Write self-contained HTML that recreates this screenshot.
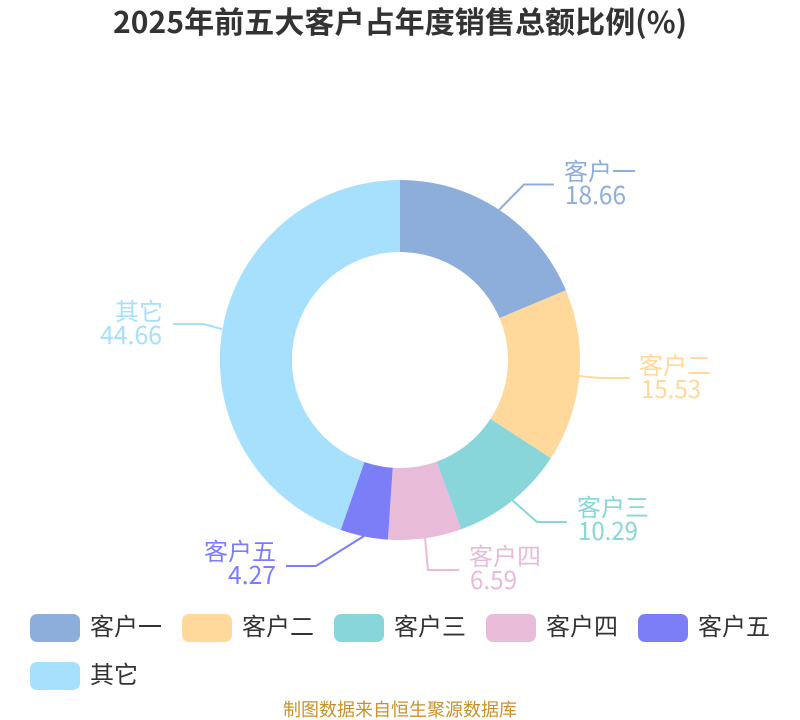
<!DOCTYPE html>
<html><head><meta charset="utf-8"><style>
html,body{margin:0;padding:0;background:#fff}
svg{display:block}
text{font-family:"Noto Sans CJK SC",sans-serif}
.n{font-size:24px}
.d{font-size:25.5px}
.l{font-size:24px;fill:#333}
</style></head><body>
<svg width="800" height="720" viewBox="0 0 800 720" xmlns="http://www.w3.org/2000/svg">
<rect width="800" height="720" fill="#fff"/>
<text x="400" y="33" text-anchor="middle" style="font-size:30px;font-weight:700" fill="#333" textLength="574" lengthAdjust="spacing">2025年前五大客户占年度销售总额比例(%)</text>
<path d="M400 180A180 180 0 0 1 565.9 290.2L499.5 318.1A108 108 0 0 0 400 252Z" fill="#8DADDB"/>
<path d="M565.9 290.2A180 180 0 0 1 550.8 458.2L490.5 418.9A108 108 0 0 0 499.5 318.1Z" fill="#FFD99C"/>
<path d="M550.8 458.2A180 180 0 0 1 461.2 529.3L436.7 461.6A108 108 0 0 0 490.5 418.9Z" fill="#88D6D9"/>
<path d="M461.2 529.3A180 180 0 0 1 387.9 539.6L392.7 467.8A108 108 0 0 0 436.7 461.6Z" fill="#E8BBD9"/>
<path d="M387.9 539.6A180 180 0 0 1 340.7 530L364.4 462A108 108 0 0 0 392.7 467.8Z" fill="#7B7EF7"/>
<path d="M340.7 530A180 180 0 0 1 400 180L400 252A108 108 0 0 0 364.4 462Z" fill="#A6E0FC"/>
<g fill="none" stroke-width="2">
<path d="M499 210L524 184.5H554" stroke="#8DADDB"/>
<path d="M579 376L600 378H630" stroke="#FFD99C"/>
<path d="M512 500L537 522H567" stroke="#88D6D9"/>
<path d="M425 538L428 570H459" stroke="#E8BBD9"/>
<path d="M364 536L316 566H286" stroke="#7B7EF7"/>
<path d="M222 329L203 324H173" stroke="#A6E0FC"/>
</g>
<g>
<text class="n" x="564" y="180" fill="#8DADDB">客户一</text>
<text class="d" x="565" y="204" fill="#8DADDB" textLength="61" lengthAdjust="spacingAndGlyphs">18.66</text>
<text class="n" x="639" y="374" fill="#FFD99C">客户二</text>
<text class="d" x="641" y="398" fill="#FFD99C" textLength="60" lengthAdjust="spacingAndGlyphs">15.53</text>
<text class="n" x="577" y="516" fill="#88D6D9">客户三</text>
<text class="d" x="578" y="540" fill="#88D6D9" textLength="60" lengthAdjust="spacingAndGlyphs">10.29</text>
<text class="n" x="469" y="565" fill="#E8BBD9">客户四</text>
<text class="d" x="470" y="589" fill="#E8BBD9" textLength="47" lengthAdjust="spacingAndGlyphs">6.59</text>
<text class="n" x="276" y="560" text-anchor="end" fill="#7B7EF7">客户五</text>
<text class="d" x="228" y="584" fill="#7B7EF7" textLength="48" lengthAdjust="spacingAndGlyphs">4.27</text>
<text class="n" x="163" y="320" text-anchor="end" fill="#A6E0FC">其它</text>
<text class="d" x="100" y="344" fill="#A6E0FC" textLength="62" lengthAdjust="spacingAndGlyphs">44.66</text>
</g>
<rect x="30" y="614" width="50" height="28" rx="7" fill="#8DADDB"/>
<rect x="182" y="614" width="50" height="28" rx="7" fill="#FFD99C"/>
<rect x="334" y="614" width="50" height="28" rx="7" fill="#88D6D9"/>
<rect x="486" y="614" width="50" height="28" rx="7" fill="#E8BBD9"/>
<rect x="638" y="614" width="50" height="28" rx="7" fill="#7B7EF7"/>
<rect x="30" y="662" width="50" height="28" rx="7" fill="#A6E0FC"/>
<text class="l" x="90" y="635">客户一</text>
<text class="l" x="242" y="635">客户二</text>
<text class="l" x="394" y="635">客户三</text>
<text class="l" x="546" y="635">客户四</text>
<text class="l" x="698" y="635">客户五</text>
<text class="l" x="90" y="683">其它</text>
<text x="400" y="716" text-anchor="middle" style="font-size:18px" fill="#C8922A">制图数据来自恒生聚源数据库</text>
</svg>
</body></html>
